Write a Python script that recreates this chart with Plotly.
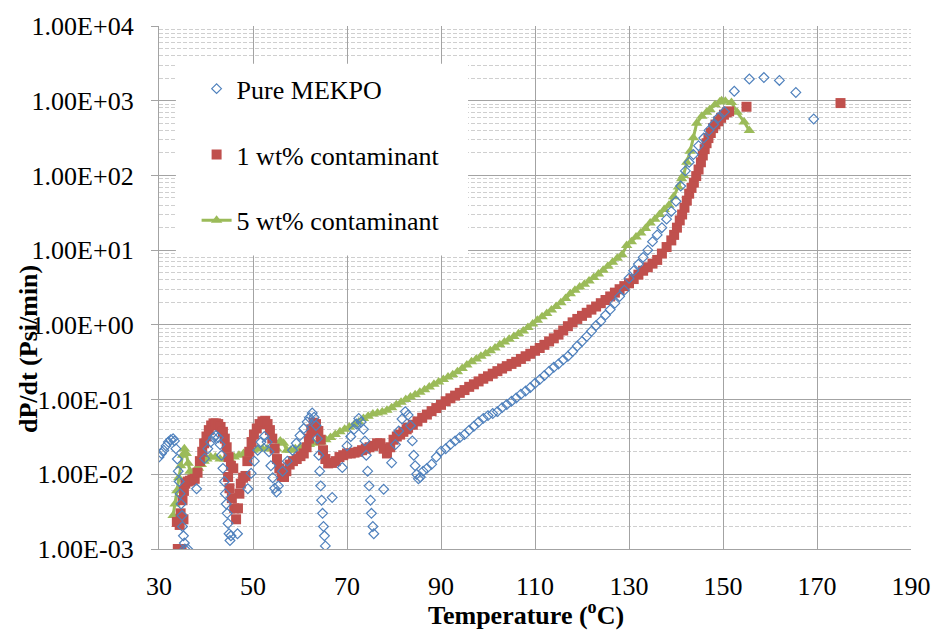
import plotly.graph_objects as go

# ---------------- data ----------------
x_ticks = [30, 50, 70, 90, 110, 130, 150, 170, 190]
y_tick_vals = [0.001, 0.01, 0.1, 1, 10, 100, 1000, 10000]
y_tick_labels = ["1.00E-03", "1.00E-02", "1.00E-01", "1.00E+00",
                 "1.00E+01", "1.00E+02", "1.00E+03", "1.00E+04"]

pure_T = [30.0, 30.5, 31.0, 31.5, 32.0, 32.5, 33.0, 33.3, 33.6, 33.9, 34.1, 34.3, 34.5, 34.7, 34.9, 35.0,
          35.2, 35.4, 35.5, 36.1, 38.0, 39.7, 40.4, 41.0, 41.6, 42.1, 42.6, 43.0, 43.3, 43.6, 43.9, 44.1,
          44.3, 44.5, 44.7, 44.9, 45.1, 45.3, 46.7, 48.9, 49.6, 50.3, 51.0, 51.7, 52.4, 53.0, 53.4, 53.8,
          54.2, 54.6, 55.0, 55.4, 56.3, 57.3, 58.4, 59.2, 60.0, 60.8, 61.5, 62.0, 62.6, 63.0, 63.4, 63.7,
          64.0, 64.2, 64.4, 64.6, 64.8, 65.0, 65.2, 65.4, 66.85, 69.0, 70.0, 70.8, 71.5, 72.0, 72.5, 73.0,
          73.5, 73.8, 74.1, 74.4, 74.7, 75.0, 75.2, 75.5, 75.7, 77.8, 79.5, 80.3, 81.0, 81.7, 82.4, 83.0,
          83.5, 83.9, 84.2, 84.5, 84.8, 85.2, 85.6, 86.2, 87.0, 88.0, 89.0, 90.0, 91.0, 92.0, 93.0, 94.0,
          95.0, 96.0, 97.0, 98.0, 99.0, 100.0, 101.0, 102.0, 103.0, 104.0, 105.0, 106.0, 107.0, 108.0,
          109.0, 110.0, 111.0, 112.0, 113.0, 114.0, 115.0, 116.0, 117.0, 118.0, 119.0, 120.0, 121.0, 122.0,
          123.0, 124.0, 125.0, 126.0, 127.0, 128.0, 129.0, 130.0, 131.0, 132.0, 133.0, 134.0, 135.0, 136.0,
          137.0, 138.0, 139.0, 140.0, 141.0, 142.0, 142.8, 143.7, 144.8, 145.9, 147.0, 148.0, 149.0, 150.3,
          152.4, 155.6, 158.7, 162.0, 165.5, 169.3]
pure_v = [0.017, 0.019, 0.021, 0.024, 0.027, 0.029, 0.030, 0.028, 0.022, 0.016, 0.011, 0.008, 0.0055, 0.004,
          0.0028, 0.002, 0.0015, 0.0012, 0.001, 0.001, 0.0064, 0.0163, 0.022, 0.027, 0.031, 0.033, 0.031,
          0.025, 0.018, 0.012, 0.008, 0.0055, 0.004, 0.003, 0.0022, 0.0016, 0.0013, 0.0015, 0.0016, 0.0064,
          0.0103, 0.015, 0.021, 0.027, 0.032, 0.027, 0.02, 0.013, 0.009, 0.0065, 0.0058, 0.007, 0.011, 0.015,
          0.021, 0.026, 0.033, 0.041, 0.05, 0.057, 0.066, 0.058, 0.045, 0.03, 0.018, 0.011, 0.007, 0.0045,
          0.003, 0.002, 0.0015, 0.0011, 0.0049, 0.0123, 0.024, 0.032, 0.04, 0.047, 0.056, 0.05, 0.04, 0.028,
          0.018, 0.011, 0.007, 0.0045, 0.003, 0.002, 0.0016, 0.0063, 0.0143, 0.025, 0.038, 0.055, 0.069,
          0.062, 0.045, 0.028, 0.018, 0.013, 0.01, 0.0087, 0.0092, 0.011, 0.012, 0.0136, 0.017, 0.0204,
          0.022, 0.025, 0.028, 0.031, 0.034, 0.039, 0.044, 0.05, 0.056, 0.061, 0.065, 0.069, 0.078, 0.086,
          0.095, 0.105, 0.118, 0.13, 0.145, 0.165, 0.185, 0.21, 0.24, 0.27, 0.3, 0.34, 0.38, 0.44, 0.52,
          0.6, 0.7, 0.82, 0.98, 1.12, 1.35, 1.6, 1.95, 2.4, 2.9, 4.2, 5.3, 6.5, 8.0, 10.0, 13.0, 16.0, 20.0,
          26.0, 33.0, 45.0, 72.0, 115.0, 150.0, 190.0, 250.0, 316.0, 400.0, 480.0, 590.0, 710.0, 1340.0,
          1950.0, 2040.0, 1870.0, 1290.0, 570.0]

c1_T = [34.0, 34.8, 33.8, 34.4, 35.2, 34.6, 35.0, 35.3, 35.6, 36.1, 36.6, 37.1, 37.6, 38.2, 38.7, 39.2,
        39.6, 40.1, 40.6, 41.1, 41.6, 42.1, 42.6, 43.1, 43.6, 44.0, 44.4, 44.8, 45.3, 45.8, 44.7, 45.0,
        45.5, 46.0, 46.4, 46.8, 47.1, 47.4, 47.9, 48.4, 48.8, 49.2, 49.7, 50.2, 50.8, 51.4, 52.0, 52.6,
        53.1, 53.6, 54.1, 54.6, 55.1, 55.6, 56.1, 56.6, 57.1, 57.8, 58.5, 59.3, 60.1, 60.8, 61.4, 61.9,
        62.4, 62.9, 63.4, 63.9, 64.4, 64.9, 65.4, 66.0, 66.8, 67.6, 68.4, 69.2, 70.0, 70.8, 71.6, 72.4,
        73.2, 74.0, 74.8, 75.6, 76.4, 77.1, 77.8, 78.5, 79.2, 79.9, 80.6, 81.3, 82.0, 82.7, 83.0, 84.0,
        85.0, 86.0, 87.0, 88.0, 89.0, 90.0, 91.0, 92.0, 93.0, 94.0, 95.0, 96.0, 97.0, 98.0, 99.0, 100.0,
        101.0, 102.0, 103.0, 104.0, 105.0, 106.0, 107.0, 108.0, 109.0, 110.0, 111.0, 112.0, 113.0, 114.0,
        115.0, 116.0, 117.0, 118.0, 119.0, 120.0, 121.0, 122.0, 123.0, 124.0, 125.0, 126.0, 127.0, 128.0,
        129.0, 130.0, 131.0, 132.0, 133.0, 134.0, 135.0, 136.0, 137.0, 138.0, 139.0, 139.6, 140.2, 140.8,
        141.3, 141.8, 142.3, 142.8, 143.3, 143.8, 144.3, 144.8, 145.3, 145.7, 146.1, 146.5, 146.9, 147.4,
        147.9, 148.4, 149.0, 149.6, 150.2, 150.8, 151.3, 155.0, 175.0]
c1_v = [0.001, 0.001, 0.0023, 0.0021, 0.0025, 0.003, 0.0045, 0.006, 0.0075, 0.008, 0.0082, 0.0085, 0.0087,
        0.0105, 0.015, 0.02, 0.026, 0.032, 0.039, 0.045, 0.048, 0.048, 0.047, 0.043, 0.037, 0.03, 0.023,
        0.017, 0.013, 0.012, 0.0092, 0.0065, 0.0048, 0.0035, 0.0025, 0.0035, 0.0055, 0.0075, 0.009, 0.0095,
        0.015, 0.02, 0.027, 0.034, 0.041, 0.047, 0.051, 0.052, 0.047, 0.039, 0.03, 0.022, 0.016, 0.012,
        0.0095, 0.0092, 0.011, 0.0135, 0.015, 0.016, 0.0175, 0.019, 0.023, 0.03, 0.04, 0.049, 0.047, 0.038,
        0.029, 0.021, 0.016, 0.014, 0.0142, 0.015, 0.017, 0.018, 0.019, 0.019, 0.0195, 0.02, 0.021, 0.022,
        0.023, 0.024, 0.026, 0.026, 0.022, 0.019, 0.023, 0.029, 0.032, 0.034, 0.037, 0.04, 0.042, 0.046,
        0.051, 0.057, 0.063, 0.07, 0.077, 0.085, 0.095, 0.104, 0.113, 0.123, 0.134, 0.148, 0.16, 0.175,
        0.19, 0.205, 0.222, 0.24, 0.26, 0.28, 0.3, 0.32, 0.35, 0.38, 0.41, 0.45, 0.49, 0.54, 0.6, 0.66,
        0.74, 0.84, 0.96, 1.08, 1.2, 1.32, 1.45, 1.6, 1.76, 1.95, 2.15, 2.4, 2.7, 3.0, 3.3, 3.6, 4.1, 4.7,
        5.3, 5.9, 6.6, 7.4, 9.0, 11.0, 13.5, 16.0, 20.0, 25.0, 30.0, 37.0, 46.0, 57.0, 68.0, 80.0, 98.0,
        120.0, 150.0, 185.0, 225.0, 270.0, 316.0, 370.0, 430.0, 480.0, 530.0, 590.0, 650.0, 700.0, 720.0,
        830.0, 930.0]

c5_T = [33.0, 33.4, 33.8, 34.2, 34.6, 35.0, 35.4, 35.8, 36.2, 36.6, 37.2, 37.8, 38.4, 39.0, 39.6, 40.2,
        41.0, 42.0, 43.0, 44.0, 45.0, 46.0, 47.0, 48.0, 49.0, 50.0, 51.0, 52.0, 53.0, 54.0, 55.0, 55.8,
        56.5, 57.2, 58.0, 59.0, 60.0, 61.0, 62.0, 63.0, 64.0, 64.5, 65.5, 66.5, 67.5, 68.5, 69.5, 70.5,
        71.5, 72.5, 73.5, 74.5, 75.5, 76.5, 77.5, 78.5, 79.5, 80.5, 81.5, 82.5, 83.5, 84.5, 85.5, 86.5,
        87.5, 88.5, 89.5, 90.5, 91.5, 92.5, 93.5, 94.5, 95.5, 96.5, 97.5, 98.5, 99.5, 100.5, 101.5, 102.5,
        103.5, 104.5, 105.5, 106.5, 107.5, 108.5, 109.5, 110.5, 111.5, 112.5, 113.5, 114.5, 115.5, 116.5,
        117.5, 118.5, 119.5, 120.5, 121.5, 122.5, 123.5, 124.5, 125.5, 126.5, 127.5, 128.5, 129.5, 130.5,
        131.5, 132.5, 133.5, 134.5, 135.5, 136.5, 137.5, 138.5, 139.5, 140.5, 141.2, 141.6, 142.3, 143.0,
        143.7, 144.4, 145.5, 146.5, 147.2, 148.3, 149.3, 149.7, 150.5, 151.8, 153.0, 154.5, 155.6]
c5_v = [0.0028, 0.004, 0.006, 0.009, 0.013, 0.018, 0.022, 0.019, 0.014, 0.011, 0.0105, 0.0115, 0.012,
        0.0135, 0.015, 0.016, 0.017, 0.017, 0.016, 0.016, 0.016, 0.017, 0.018, 0.019, 0.02, 0.021, 0.022,
        0.022, 0.022, 0.022, 0.022, 0.028, 0.026, 0.021, 0.021, 0.022, 0.023, 0.024, 0.025, 0.026, 0.027,
        0.027, 0.029, 0.031, 0.034, 0.037, 0.04, 0.043, 0.046, 0.05, 0.056, 0.06, 0.064, 0.066, 0.068,
        0.072, 0.078, 0.085, 0.092, 0.1, 0.108, 0.116, 0.125, 0.135, 0.147, 0.16, 0.172, 0.185, 0.2,
        0.215, 0.235, 0.26, 0.29, 0.32, 0.35, 0.38, 0.41, 0.45, 0.49, 0.54, 0.59, 0.64, 0.7, 0.76, 0.83,
        0.92, 1.03, 1.15, 1.28, 1.42, 1.58, 1.76, 1.97, 2.25, 2.6, 2.9, 3.2, 3.5, 3.85, 4.3, 4.8, 5.4,
        6.1, 6.9, 7.8, 8.7, 11.5, 13.0, 15.0, 17.0, 19.5, 23.0, 26.0, 30.0, 35.0, 40.0, 52.0, 70.0, 90.0,
        100.0, 150.0, 210.0, 320.0, 500.0, 620.0, 700.0, 760.0, 880.0, 960.0, 1000.0, 980.0, 950.0, 700.0,
        520.0, 400.0]

series_names = ["Pure MEKPO", "1 wt% contaminant", "5 wt% contaminant"]

# ---------------- figure ----------------
FONT = "Liberation Serif"
GRID = "#A3A3A3"
MINOR = "#CFCFCF"

fig = go.Figure()
fig.add_trace(go.Scatter(
    x=c5_T, y=c5_v, name=series_names[2], mode="lines+markers",
    line=dict(color="#9BBB59", width=3),
    marker=dict(symbol="triangle-up", size=10, color="#9BBB59"),
    legendrank=3, legendgroup="c"))
fig.add_trace(go.Scatter(
    x=c1_T, y=c1_v, name=series_names[1], mode="markers",
    marker=dict(symbol="square", size=10, color="#C0504D"),
    legendrank=2, legendgroup="b"))
fig.add_trace(go.Scatter(
    x=pure_T, y=pure_v, name=series_names[0], mode="markers",
    marker=dict(symbol="diamond-open", size=7.5, color="#4F81BD", line=dict(width=1.2)),
    legendrank=1, legendgroup="a"))

minor_vals = [m * 10 ** e for e in range(-3, 4) for m in range(2, 10)]

fig.update_xaxes(
    range=[30, 190], tickvals=x_ticks, showgrid=True, gridcolor=GRID, gridwidth=1.3,
    showline=True, linecolor=GRID, linewidth=1.3, zeroline=False,
    ticks="outside", ticklen=0, ticklabelstandoff=14,
    tickfont=dict(family=FONT, size=26, color="black"))
fig.update_yaxes(
    type="log", range=[-3, 4], tickvals=y_tick_vals, ticktext=y_tick_labels,
    showgrid=True, gridcolor=GRID, gridwidth=1.3,
    showline=True, linecolor=GRID, linewidth=1.3, zeroline=False,
    ticks="outside", ticklen=7, tickcolor=GRID, tickwidth=1.3, ticklabelstandoff=12,
    tickfont=dict(family=FONT, size=26, color="black"),
    minor=dict(tickvals=minor_vals, showgrid=True, gridcolor=MINOR, gridwidth=1,
               griddash="4px,2px", ticks=""))

# white legend box
fig.add_shape(type="rect", xref="paper", yref="paper",
              x0=0.0225, x1=0.411, y0=0.5614, y1=0.928,
              fillcolor="white", line=dict(width=0), layer="above")

fig.update_layout(
    width=943, height=633,
    margin=dict(l=159, r=27, t=20, b=84),
    paper_bgcolor="white", plot_bgcolor="white",
    font=dict(family=FONT, size=26, color="black"),
    legend=dict(x=0.05, y=0.925, xanchor="left", yanchor="top",
                bgcolor="rgba(0,0,0,0)", borderwidth=0,
                font=dict(family=FONT, size=26, color="black"),
                tracegroupgap=29, itemwidth=30),
    annotations=[
        dict(text="<b>Temperature (<sup>o</sup>C)</b>", xref="paper", yref="paper",
             x=0.4875, y=-0.123, xanchor="center", yanchor="middle", showarrow=False,
             font=dict(family=FONT, size=26, color="black")),
        dict(text="<b>dP/dt (Psi/min)</b>", xref="paper", yref="paper",
             x=-0.1744, y=0.382, xanchor="center", yanchor="middle", showarrow=False,
             textangle=-90, font=dict(family=FONT, size=26, color="black")),
    ],
)

fig.write_html("out.html")
